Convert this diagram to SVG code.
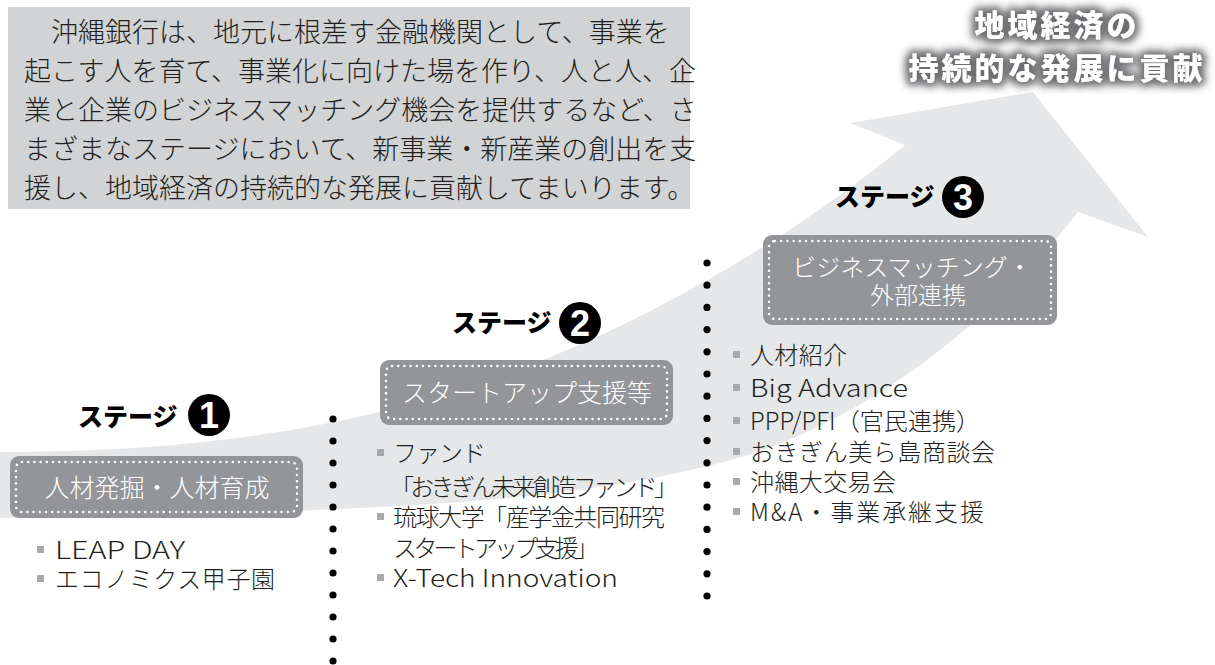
<svg xmlns="http://www.w3.org/2000/svg" width="1215" height="665" viewBox="0 0 1215 665">
<style>
.jp{font-family:"Noto Sans CJK JP","Noto Sans CJK SC",sans-serif;}
.para{font-size:27px;font-weight:300;fill:#231f20;}
.item{font-size:24px;font-weight:300;fill:#231f20;}
.stg{font-size:25px;font-weight:900;fill:#000;}
.num{font-family:"Liberation Sans Narrow","Liberation Sans",sans-serif;font-size:36px;font-weight:bold;fill:#fff;text-anchor:middle;}
.boxt{font-size:25px;font-weight:300;fill:#fff;text-anchor:middle;}
.sbox{fill:#939598;}
.dots{fill:none;stroke:#fff;stroke-width:2.6;stroke-linecap:round;stroke-dasharray:0 6.2;}
.bul{fill:#a7a9ac;}
.title{font-size:30px;font-weight:900;fill:#fff;text-anchor:middle;letter-spacing:3px;}
</style>
<defs>
<filter id="glow" x="-20%" y="-60%" width="140%" height="220%">
<feMorphology in="SourceAlpha" operator="dilate" radius="2" result="d"/>
<feGaussianBlur in="d" stdDeviation="5" result="b"/>
<feFlood flood-color="#6d6e71"/>
<feComposite in2="b" operator="in" result="s"/>
<feMerge><feMergeNode in="s"/><feMergeNode in="s"/><feMergeNode in="SourceGraphic"/></feMerge>
</filter>
</defs>

<g id="arrow">
<path d="M0,452 C250,452 470,415 700,284 C780,240 850,190 905,145 L850,123 L1033,92 L1148,237 L1078,212 C960,360 820,445 690,470 C560,500 400,512 0,518 Z" fill="#e6e7e8"/>
</g>

<g id="intro">
<rect x="8" y="7" width="682" height="202" fill="#d1d3d4"/>
<g class="jp para">
<text x="24" y="42">　沖縄銀行は、地元に根差す金融機関として、事業を</text>
<text x="24" y="81">起こす人を育て、事業化に向けた場を作り、人と人、企</text>
<text x="24" y="120">業と企業のビジネスマッチング機会を提供するなど、さ</text>
<text x="24" y="159">まざまなステージにおいて、新事業・新産業の創出を支</text>
<text x="24" y="198">援し、地域経済の持続的な発展に貢献してまいります。</text>
</g>
</g>

<g id="goal" filter="url(#glow)">
<text class="jp title" x="1057" y="36">地域経済の</text>
<text class="jp title" x="1057" y="79">持続的な発展に貢献</text>
</g>

<g id="connectors" fill="#000">
<circle cx="333" cy="419" r="3.6"/><circle cx="333" cy="441" r="3.6"/><circle cx="333" cy="463" r="3.6"/><circle cx="333" cy="485" r="3.6"/><circle cx="333" cy="507" r="3.6"/><circle cx="333" cy="529" r="3.6"/><circle cx="333" cy="551" r="3.6"/><circle cx="333" cy="573" r="3.6"/><circle cx="333" cy="595" r="3.6"/><circle cx="333" cy="617" r="3.6"/><circle cx="333" cy="639" r="3.6"/><circle cx="333" cy="661" r="3.6"/>
<circle cx="707" cy="263" r="3.6"/><circle cx="707" cy="285.2" r="3.6"/><circle cx="707" cy="307.4" r="3.6"/><circle cx="707" cy="329.6" r="3.6"/><circle cx="707" cy="351.8" r="3.6"/><circle cx="707" cy="374" r="3.6"/><circle cx="707" cy="396.2" r="3.6"/><circle cx="707" cy="418.4" r="3.6"/><circle cx="707" cy="440.6" r="3.6"/><circle cx="707" cy="462.8" r="3.6"/><circle cx="707" cy="485" r="3.6"/><circle cx="707" cy="507.2" r="3.6"/><circle cx="707" cy="529.4" r="3.6"/><circle cx="707" cy="551.6" r="3.6"/><circle cx="707" cy="573.8" r="3.6"/><circle cx="707" cy="596" r="3.6"/>
</g>

<g id="stage1">
<text class="jp stg" x="78" y="426">ステージ</text>
<circle cx="209" cy="415" r="21" fill="#000"/>
<text class="num" x="209" y="428">1</text>
<rect class="sbox" x="10" y="456" width="293" height="62" rx="9"/>
<rect class="dots" x="16" y="462" width="281" height="50" rx="6"/>
<text class="jp boxt" x="157" y="497">人材発掘・人材育成</text>
<rect class="bul" x="37" y="546" width="7" height="7"/>
<text class="jp item" x="55" y="559" textLength="130" lengthAdjust="spacingAndGlyphs">LEAP DAY</text>
<rect class="bul" x="37" y="575" width="7" height="7"/>
<text class="jp item" x="55" y="588" textLength="220">エコノミクス甲子園</text>
</g>

<g id="stage2">
<text class="jp stg" x="452" y="332">ステージ</text>
<circle cx="580" cy="323" r="21" fill="#000"/>
<text class="num" x="580" y="336">2</text>
<rect class="sbox" x="380" y="360" width="293" height="65" rx="9"/>
<rect class="dots" x="386" y="366" width="281" height="53" rx="6"/>
<text class="jp boxt" x="527" y="402">スタートアップ支援等</text>
<rect class="bul" x="377" y="449" width="7" height="7"/>
<text class="jp item" x="393" y="462" textLength="93">ファンド</text>
<text class="jp item" x="390" y="496" textLength="288">「おきぎん未来創造ファンド」</text>
<rect class="bul" x="377" y="513" width="7" height="7"/>
<text class="jp item" x="393" y="526" textLength="272">琉球大学「産学金共同研究</text>
<text class="jp item" x="393" y="557" textLength="206">スタートアップ支援」</text>
<rect class="bul" x="377" y="574" width="7" height="7"/>
<text class="jp item" x="393" y="587" textLength="225" lengthAdjust="spacingAndGlyphs">X-Tech Innovation</text>
</g>

<g id="stage3">
<text class="jp stg" x="835" y="206">ステージ</text>
<circle cx="963" cy="197" r="21" fill="#000"/>
<text class="num" x="963" y="210">3</text>
<rect class="sbox" x="763" y="235" width="294" height="90" rx="9"/>
<rect class="dots" x="769" y="241" width="282" height="78" rx="6"/>
<text class="jp boxt" x="912" y="276" style="font-size:24px">ビジネスマッチング・</text>
<text class="jp boxt" x="918" y="304" style="font-size:24px">外部連携</text>
<rect class="bul" x="733" y="351" width="7" height="7"/>
<text class="jp item" x="750" y="364" textLength="97">人材紹介</text>
<rect class="bul" x="733" y="384" width="7" height="7"/>
<text class="jp item" x="750" y="397" textLength="158" lengthAdjust="spacingAndGlyphs">Big Advance</text>
<rect class="bul" x="733" y="417" width="7" height="7"/>
<text class="jp item" x="750" y="430" textLength="230">PPP/PFI（官民連携）</text>
<rect class="bul" x="733" y="448" width="7" height="7"/>
<text class="jp item" x="750" y="461" textLength="245">おきぎん美ら島商談会</text>
<rect class="bul" x="733" y="478" width="7" height="7"/>
<text class="jp item" x="750" y="491" textLength="146">沖縄大交易会</text>
<rect class="bul" x="733" y="508" width="7" height="7"/>
<text class="jp item" x="750" y="521" textLength="234">M&amp;A・事業承継支援</text>
</g>
</svg>
